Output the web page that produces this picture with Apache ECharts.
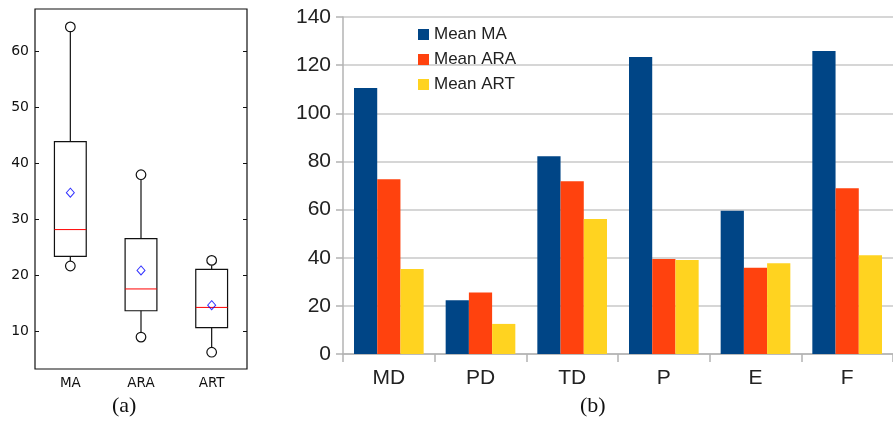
<!DOCTYPE html>
<html><head><meta charset="utf-8">
<script src="https://cdn.jsdelivr.net/npm/echarts@6/dist/echarts.min.js"></script>
<style>html,body{margin:0;padding:0;background:#fff}#c{width:893px;height:427px}</style>
</head><body><div id="c"></div>
<script>
// Panel (a): box plot
const boxCats = ['MA', 'ARA', 'ART'];
const boxMin = [21.7, 9.0, 6.3];
const boxQ1 = [23.4, 13.7, 10.7];
const boxMedian = [28.2, 17.6, 14.3];
const boxQ3 = [43.9, 26.6, 21.1];
const boxMax = [64.4, 38.0, 22.7];
const boxMean = [34.8, 20.9, 14.7];
const boxTicks = [10, 20, 30, 40, 50, 60];

// Panel (b): grouped bars
const barCats = ['MD', 'PD', 'TD', 'P', 'E', 'F'];
const meanMA = [110.5, 22.3, 82.2, 123.4, 59.5, 125.9];
const meanARA = [72.6, 25.6, 71.8, 39.5, 35.8, 68.9];
const meanART = [35.3, 12.5, 56.1, 39.1, 37.7, 41.0];

const chart = echarts.init(document.getElementById('c'), null, {renderer: 'canvas'});

const boxData = boxCats.map((c, i) => [i, boxMin[i], boxQ1[i], boxMedian[i], boxQ3[i], boxMax[i]]);

function renderBox(params, api) {
  const i = api.value(0);
  const bw = api.size([1, 0])[0] * 0.45;
  const pMin = api.coord([i, api.value(1)]);
  const pQ1 = api.coord([i, api.value(2)]);
  const pMed = api.coord([i, api.value(3)]);
  const pQ3 = api.coord([i, api.value(4)]);
  const pMax = api.coord([i, api.value(5)]);
  const x = pMin[0];
  const r = 4.8;
  const blk = {stroke: '#111', lineWidth: 1.2, fill: null};
  return {
    type: 'group',
    children: [
      {type: 'line', shape: {x1: x, y1: pQ3[1], x2: x, y2: pMax[1] + r}, style: blk},
      {type: 'line', shape: {x1: x, y1: pQ1[1], x2: x, y2: pMin[1] - r}, style: blk},
      {type: 'rect', shape: {x: x - bw / 2, y: pQ3[1], width: bw, height: pQ1[1] - pQ3[1]}, style: {stroke: '#111', lineWidth: 1.2, fill: 'rgba(0,0,0,0)'}},
      {type: 'line', shape: {x1: x - bw / 2, y1: pMed[1], x2: x + bw / 2, y2: pMed[1]}, style: {stroke: '#ff0000', lineWidth: 1}},
      {type: 'circle', shape: {cx: x, cy: pMax[1], r: r}, style: {stroke: '#111', lineWidth: 1.2, fill: '#fff'}},
      {type: 'circle', shape: {cx: x, cy: pMin[1], r: r}, style: {stroke: '#111', lineWidth: 1.2, fill: '#fff'}}
    ]
  };
}

const lblFontB = 'Liberation Sans';

chart.setOption({
  animation: false,
  backgroundColor: '#fff',
  grid: [
    {left: 35, top: 9, width: 212, height: 360, show: true, borderColor: '#111', borderWidth: 1.2, backgroundColor: 'transparent'},
    {left: 343, top: 17, right: -8, bottom: 73}
  ],
  legend: {
    orient: 'vertical',
    left: 413,
    top: 21,
    itemWidth: 11,
    itemHeight: 11,
    itemGap: 8,
    icon: 'rect',
    textStyle: {fontFamily: lblFontB, fontSize: 17, color: '#222'},
    data: ['Mean MA', 'Mean ARA', 'Mean ART']
  },
  xAxis: [
    {type: 'category', gridIndex: 0, data: boxCats,
     axisLine: {show: false}, axisTick: {show: false},
     axisLabel: {fontFamily: 'DejaVu Sans', fontSize: 13.5, color: '#111', margin: 7}},
    {type: 'category', gridIndex: 1, data: barCats,
     axisLine: {show: true, lineStyle: {color: '#b3b3b3', width: 1.5}},
     axisTick: {show: true, length: 8, lineStyle: {color: '#b3b3b3', width: 1.5}},
     axisLabel: {fontFamily: lblFontB, fontSize: 21, color: '#222', margin: 14}}
  ],
  yAxis: [
    {type: 'value', gridIndex: 0, min: 3.3, max: 67.6,
     axisLine: {show: false},
     axisTick: {show: true, inside: true, length: 4, customValues: boxTicks, lineStyle: {color: '#111'}},
     axisLabel: {fontFamily: 'DejaVu Sans', fontSize: 14, color: '#111', margin: 6, customValues: boxTicks},
     splitLine: {show: false}},
    {type: 'value', gridIndex: 0, position: 'right', min: 3.3, max: 67.6,
     axisLine: {show: false},
     axisTick: {show: true, inside: true, length: 4, customValues: boxTicks, lineStyle: {color: '#111'}},
     axisLabel: {show: false}, splitLine: {show: false}},
    {type: 'value', gridIndex: 1, min: 0, max: 140, interval: 20,
     axisLine: {show: true, lineStyle: {color: '#b3b3b3', width: 1.5}},
     axisTick: {show: true, length: 7, lineStyle: {color: '#b3b3b3', width: 1.5}},
     axisLabel: {fontFamily: lblFontB, fontSize: 21, color: '#222', margin: 12},
     splitLine: {show: true, lineStyle: {color: '#c8c8c8', width: 1.5}}}
  ],
  series: [
    {type: 'custom', xAxisIndex: 0, yAxisIndex: 0, renderItem: renderBox, data: boxData,
     encode: {x: 0, y: [1, 2, 3, 4, 5]}, z: 3},
    {type: 'scatter', xAxisIndex: 0, yAxisIndex: 0, data: boxMean.map((v, i) => [i, v]),
     symbol: 'diamond', symbolSize: [8, 9],
     itemStyle: {color: 'rgba(0,0,0,0)', borderColor: '#0000ff', borderWidth: 1}, z: 4},
    {name: 'Mean MA', type: 'bar', xAxisIndex: 1, yAxisIndex: 2, data: meanMA,
     itemStyle: {color: '#004586'}, barGap: '0%', barCategoryGap: '24%'},
    {name: 'Mean ARA', type: 'bar', xAxisIndex: 1, yAxisIndex: 2, data: meanARA,
     itemStyle: {color: '#ff420e'}, barGap: '0%', barCategoryGap: '24%'},
    {name: 'Mean ART', type: 'bar', xAxisIndex: 1, yAxisIndex: 2, data: meanART,
     itemStyle: {color: '#ffd320'}, barGap: '0%', barCategoryGap: '24%'}
  ],
  graphic: [
    {type: 'text', left: 112, top: 395, style: {text: '(a)', font: '22px "Liberation Serif"', fill: '#111'}},
    {type: 'text', left: 580, top: 395, style: {text: '(b)', font: '22px "Liberation Serif"', fill: '#111'}}
  ]
});
</script></body></html>
